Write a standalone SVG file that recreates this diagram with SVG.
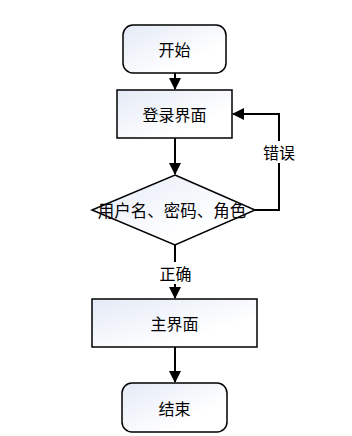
<svg xmlns="http://www.w3.org/2000/svg" width="352" height="436" viewBox="0 0 352 436">
<defs>
<linearGradient id="g" x1="0" y1="0" x2="1" y2="1">
<stop offset="0" stop-color="#e4eaf6"/>
<stop offset="0.7" stop-color="#ffffff"/>
</linearGradient>
<marker id="ah" markerWidth="12" markerHeight="12" viewBox="0 0 12 12" refX="11" refY="6" orient="auto" markerUnits="userSpaceOnUse">
<path d="M0,0 L12,6 L0,12 Z" fill="#000"/>
</marker>
</defs>
<style>
.n{fill:url(#g);stroke:#000;stroke-width:1.5}
.t{font-family:"Noto Sans CJK SC","Noto Sans",sans-serif;font-size:16px;fill:#000;text-anchor:middle;dominant-baseline:central}
.c{fill:none;stroke:#000;stroke-width:2}
.lb{fill:#fff}
</style>
<rect width="352" height="436" fill="#fff"/>
<g id="connectors">
<line class="c" x1="175" y1="73" x2="175" y2="89" marker-end="url(#ah)"/>
<line class="c" x1="175" y1="138" x2="175" y2="174" marker-end="url(#ah)"/>
<polyline class="c" points="255,210 279,210 279,114 233,114" marker-end="url(#ah)"/>
<line class="c" x1="175" y1="245" x2="175" y2="298" marker-end="url(#ah)"/>
<line class="c" x1="175" y1="347" x2="175" y2="382" marker-end="url(#ah)"/>
<rect class="lb" x="262" y="141" width="35" height="22"/>
<text class="t" x="279" y="152">错误</text>
<rect class="lb" x="158" y="262" width="35" height="22"/>
<text class="t" x="175.5" y="273">正确</text>
</g>
<g id="start">
<rect class="n" x="123" y="25" width="103" height="48" rx="10"/>
<text class="t" x="174.5" y="49">开始</text>
</g>
<g id="login">
<rect class="n" x="117" y="90" width="115" height="48"/>
<text class="t" x="174.5" y="114">登录界面</text>
</g>
<g id="check">
<polygon class="n" points="175,175 255,210 175,245 92,210"/>
<text class="t" x="172" y="210" style="font-size:16.5px">用户名、密码、角色</text>
</g>
<g id="main">
<rect class="n" x="92" y="299" width="165" height="48"/>
<text class="t" x="174.5" y="323">主界面</text>
</g>
<g id="end">
<rect class="n" x="122" y="383" width="105" height="49" rx="10"/>
<text class="t" x="174.5" y="407.5">结束</text>
</g>
</svg>
